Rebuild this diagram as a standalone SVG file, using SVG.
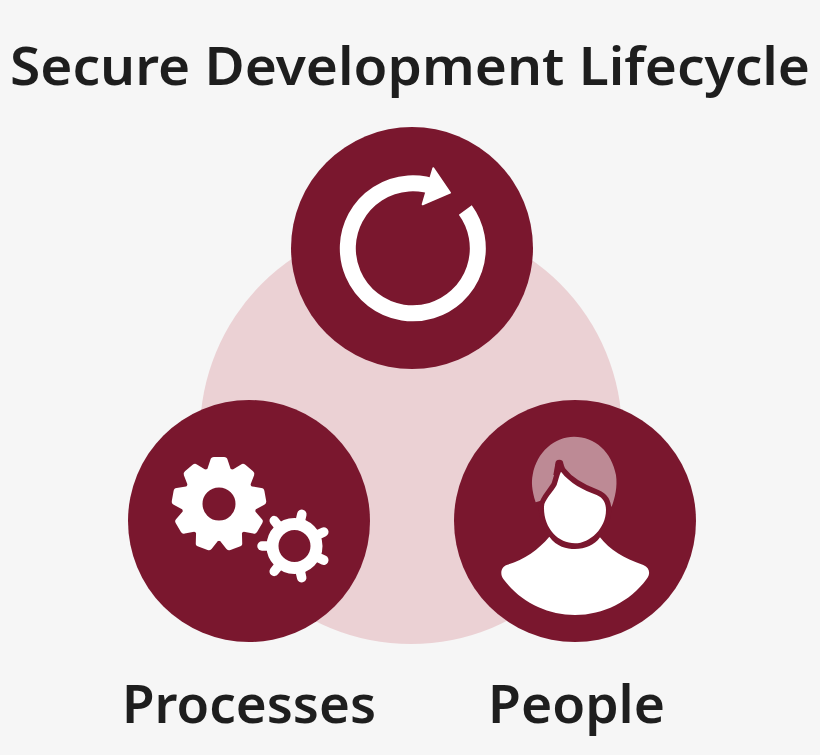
<svg xmlns="http://www.w3.org/2000/svg" xmlns:xlink="http://www.w3.org/1999/xlink" width="820" height="755" viewBox="0 0 820 755">
<style>
.t{font-family:"Noto Sans","Open Sans","Liberation Sans",sans-serif;font-weight:600;fill:#1e1e1e;font-size:53px}
.d{fill:#7a172e}
.w{fill:#fff}
.gt{stroke:#fff;stroke-linecap:round}
</style>
<defs>
<path id="bt" class="w" d="M-12,-34 L-8.500,-44.500 Q-8,-47 -5,-47 L5,-47 Q8,-47 8.500,-44.500 L12,-34 Z"/>
<line id="st" class="gt" x1="0" y1="-24" x2="0" y2="-32.500" stroke-width="9.500"/>
<path id="face" d="M213,140 C240,175 280,195 320,210 C340,218 348,235 348,255 C348,310 300,355 255,355 C205,355 160,310 162,245 C162,225 190,200 200,180 C205,165 208,150 213,140 Z"/>
</defs>
<rect width="820" height="755" fill="#f6f6f6"/>
<g id="background"><circle cx="411" cy="433" r="211" fill="#ebd1d4"/></g>
<g id="connectors"></g>
<g id="lifecycle">
<circle class="d" cx="412" cy="248" r="121"/>
<path d="M465.300,210 A65,65 0 1 1 437,188" fill="none" stroke="#fff" stroke-width="16"/>
<path class="w" d="M433.300,168.300 L450,192.700 L422.700,204.300 Z" stroke="#fff" stroke-width="2" stroke-linejoin="round"/>
</g>
<g id="processes">
<circle class="d" cx="249" cy="521" r="121"/>
<g transform="translate(219,504)">
<circle cx="0" cy="0" r="26.750" fill="none" stroke="#fff" stroke-width="20.500"/>
<use xlink:href="#bt" href="#bt"/>
<use xlink:href="#bt" href="#bt" transform="rotate(40)"/>
<use xlink:href="#bt" href="#bt" transform="rotate(80)"/>
<use xlink:href="#bt" href="#bt" transform="rotate(120)"/>
<use xlink:href="#bt" href="#bt" transform="rotate(160)"/>
<use xlink:href="#bt" href="#bt" transform="rotate(200)"/>
<use xlink:href="#bt" href="#bt" transform="rotate(240)"/>
<use xlink:href="#bt" href="#bt" transform="rotate(280)"/>
<use xlink:href="#bt" href="#bt" transform="rotate(320)"/>
</g>
<g transform="translate(294.500,546)">
<circle cx="0" cy="0" r="22" fill="none" stroke="#fff" stroke-width="12"/>
<use xlink:href="#st" href="#st" transform="rotate(13)"/>
<use xlink:href="#st" href="#st" transform="rotate(64.400)"/>
<use xlink:href="#st" href="#st" transform="rotate(115.800)"/>
<use xlink:href="#st" href="#st" transform="rotate(167.200)"/>
<use xlink:href="#st" href="#st" transform="rotate(218.600)"/>
<use xlink:href="#st" href="#st" transform="rotate(270)"/>
<use xlink:href="#st" href="#st" transform="rotate(321.400)"/>
</g>
</g>
<g id="people">
<circle class="d" cx="575" cy="521" r="121"/>
<g transform="translate(490,425) scale(0.3333)">
<path fill="#bd8a95" d="M137,232 C125,195 124,170 128,150 C140,80 195,35 252,35 C315,35 365,80 378,150 C383,185 375,220 365,245 L340,225 L160,225 Z"/>
<use xlink:href="#face" href="#face" fill="#7a172e" stroke="#7a172e" stroke-width="32" stroke-linejoin="round"/>
<circle class="d" cx="208" cy="116" r="12"/>
<path class="d" d="M196,116 L220,116 L232,150 L190,150 Z"/>
<use xlink:href="#face" href="#face" fill="#fff"/>
<path class="w" d="M178,335 C200,365 230,372 255,372 C285,372 315,360 330,337 C360,375 400,400 460,420 C480,428 482,448 470,462 C420,530 340,570 255,570 C170,570 90,530 40,462 C28,445 35,425 50,420 C100,405 145,375 178,335 Z"/>
</g>
</g>
<text class="t" x="10" y="85" textLength="800" lengthAdjust="spacingAndGlyphs">Secure Development Lifecycle</text>
<text class="t" x="122" y="723" textLength="254" lengthAdjust="spacingAndGlyphs">Processes</text>
<text class="t" x="488" y="723" textLength="177" lengthAdjust="spacingAndGlyphs">People</text>
</svg>
